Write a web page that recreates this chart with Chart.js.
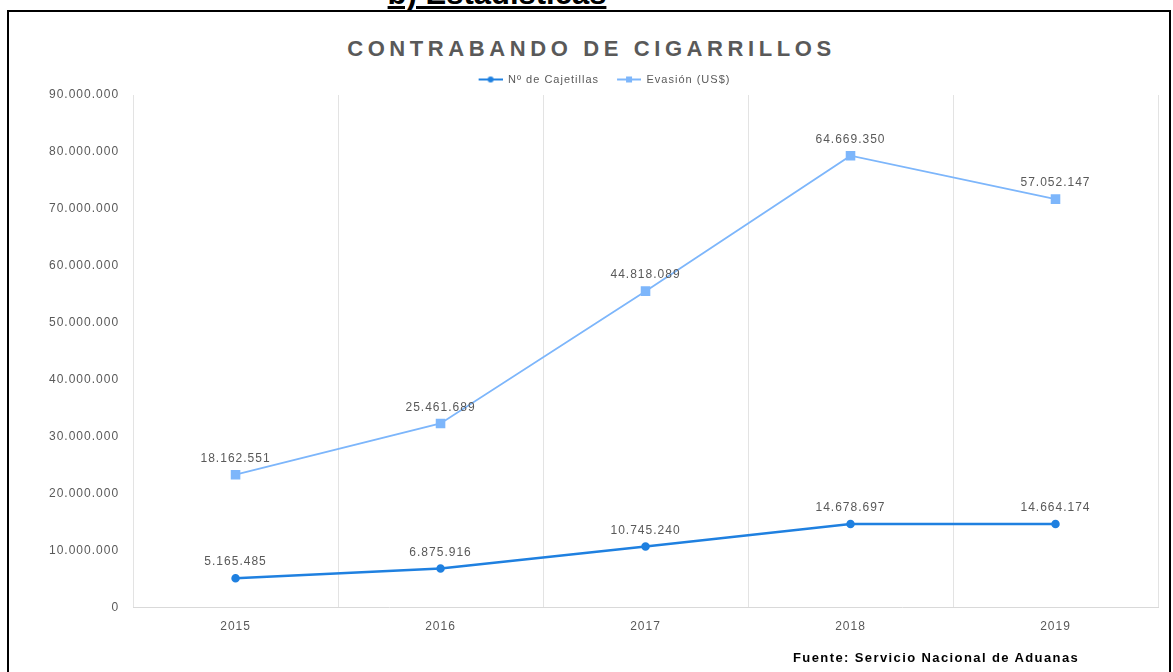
<!DOCTYPE html>
<html lang="es">
<head>
<meta charset="UTF-8">
<title>Contrabando de cigarrillos</title>
<script src="https://cdn.jsdelivr.net/npm/chart.js@4.4.0/dist/chart.umd.min.js"></script>
<style>
    html, body { margin: 0; padding: 0; background: #fff; overflow: hidden; }
    body { width: 1173px; height: 672px; position: relative; font-family: 'Liberation Sans', Arial, sans-serif; }
    .heading { position: absolute; top: -24px; left: 0; width: 994px; text-align: center; font-weight: bold; font-size: 31px; text-decoration: underline; color: #000; }
    .frame { position: absolute; left: 7px; top: 10px; width: 1160px; height: 700px; border: 2px solid #000; }
    .title { position: absolute; top: 36px; left: 0; width: 1183px; text-align: center; font-weight: bold; font-size: 22px; letter-spacing: 4.6px; color: #595959; }
    .source { position: absolute; top: 650px; left: 793px; font-weight: bold; font-size: 13px; letter-spacing: 1.4px; color: #000; }
    #chartWrap { position: absolute; left: 0; top: 0; width: 1173px; height: 672px; }
</style>
</head>
<body>
<div class="heading">b) Estadísticas</div>
<div class="frame"></div>
<div class="title">CONTRABANDO DE CIGARRILLOS</div>
<div id="chartWrap"><canvas id="chart"></canvas></div>
<div class="source">Fuente: Servicio Nacional de Aduanas</div>

<script>
// data
const years = ['2015', '2016', '2017', '2018', '2019'];
const cajetillas = [5165485, 6875916, 10745240, 14678697, 14664174];
const evasion = [18162551, 25461689, 44818089, 64669350, 57052147];

const blueDark = '#1f80e0';
const blueLight = '#7db6fb';
const grey = '#595959';
const FONT = '"Liberation Sans", Arial, sans-serif';

function fmt(n) {
    return n.toString().replace(/\B(?=(\d{3})+(?!\d))/g, '.');
}

// line+marker icons for the legend (left part left blank as spacing)
function legendIcon(color, square) {
    const c = document.createElement('canvas');
    c.width = 40; c.height = 8;
    const g = c.getContext('2d');
    g.strokeStyle = color;
    g.lineWidth = 2;
    g.beginPath(); g.moveTo(16, 4); g.lineTo(40, 4); g.stroke();
    g.fillStyle = color;
    if (square) {
        g.fillRect(25, 1, 6, 6);
    } else {
        g.beginPath(); g.arc(28, 4, 3, 0, Math.PI * 2); g.fill();
    }
    return c;
}

// the source picture has wide, stretched text
const wideText = {
    id: 'wideText',
    beforeUpdate(chart) { chart.ctx.letterSpacing = '1px'; },
    beforeDraw(chart) { chart.ctx.letterSpacing = '1px'; }
};

// value labels above each point (raw values, not stacked totals)
const valueLabels = {
    id: 'valueLabels',
    afterDatasetsDraw(chart) {
        const ctx = chart.ctx;
        ctx.save();
        ctx.font = '12px ' + FONT;
        ctx.fillStyle = grey;
        ctx.textAlign = 'center';
        ctx.textBaseline = 'middle';
        chart.data.datasets.forEach((ds, i) => {
            chart.getDatasetMeta(i).data.forEach((pt, j) => {
                ctx.fillText(fmt(ds.data[j]), pt.x, pt.y - 16);
            });
        });
        ctx.restore();
    }
};

const ctx = document.getElementById('chart').getContext('2d');
new Chart(ctx, {
    type: 'line',
    data: {
        labels: years,
        datasets: [{
            label: 'Nº de Cajetillas',
            data: cajetillas,
            borderColor: blueDark,
            backgroundColor: blueDark,
            borderWidth: 2.5,
            pointStyle: 'circle',
            pointRadius: 3,
            tension: 0,
            fill: false
        }, {
            label: 'Evasión (US$)',
            data: evasion,
            borderColor: blueLight,
            backgroundColor: blueLight,
            borderWidth: 1.8,
            pointStyle: 'rect',
            pointRadius: 5.5,
            tension: 0,
            fill: false
        }]
    },
    options: {
        responsive: true,
        maintainAspectRatio: false,
        animation: false,
        layout: { padding: { top: 72, left: 35, right: 15, bottom: 26 } },
        plugins: {
            tooltip: { enabled: false },
            legend: {
                position: 'top',
                labels: {
                    usePointStyle: true,
                    pointStyleWidth: 40,
                    padding: 2,
                    color: grey,
                    font: { size: 11, family: FONT },
                    generateLabels(chart) {
                        return chart.data.datasets.map((ds, i) => ({
                            text: ds.label,
                            fontColor: grey,
                            pointStyle: legendIcon(ds.borderColor, i === 1),
                            datasetIndex: i,
                            hidden: false,
                            lineWidth: 0
                        }));
                    }
                }
            }
        },
        scales: {
            x: {
                offset: true,
                grid: { offset: true, color: '#e3e3e3', drawTicks: false },
                border: { color: '#d9d9d9' },
                ticks: { color: grey, padding: 12, font: { size: 12, family: FONT } }
            },
            y: {
                stacked: true,
                min: 0,
                max: 90000000,
                grid: { display: false, drawTicks: false },
                border: { display: false },
                ticks: {
                    stepSize: 10000000,
                    color: grey,
                    padding: 14,
                    font: { size: 12, family: FONT },
                    callback: v => fmt(v)
                }
            }
        }
    },
    plugins: [wideText, valueLabels]
});
</script>
</body>
</html>
